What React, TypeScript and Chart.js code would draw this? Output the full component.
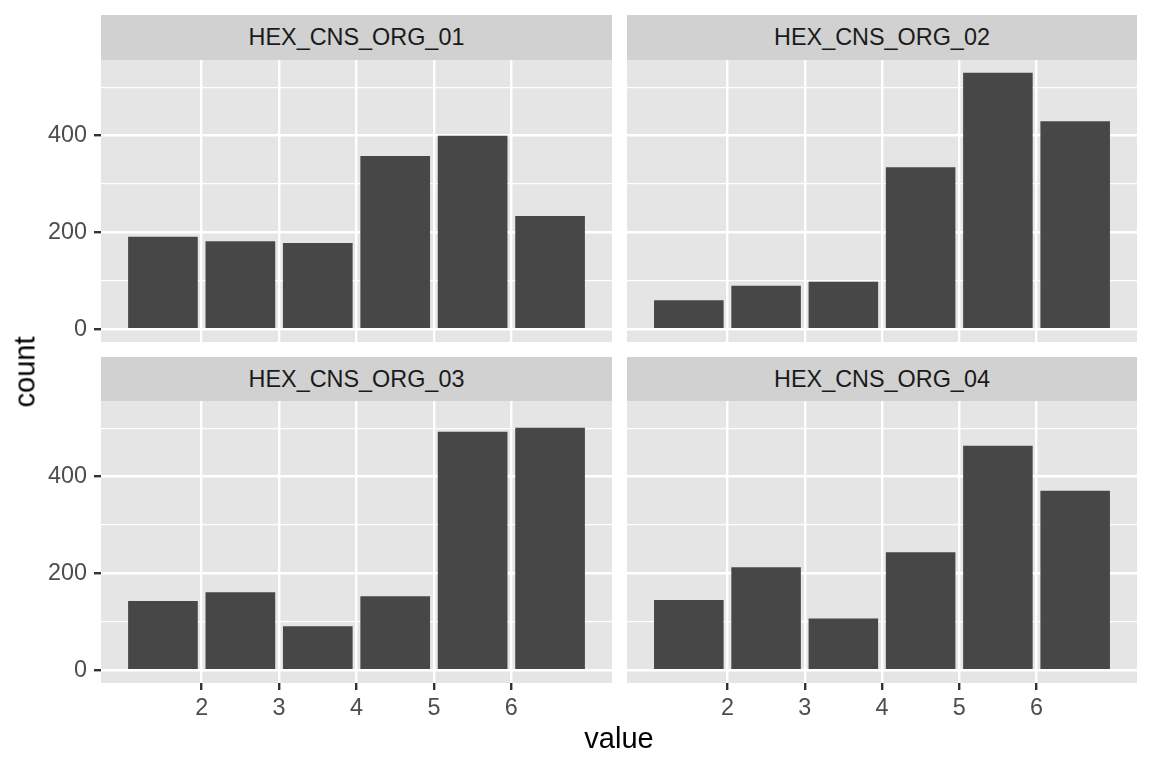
import React, { useEffect, useRef } from "react";
import { Chart, registerables } from "chart.js";

Chart.register(...registerables);

// ---- data ----
const binCenters = [1.5, 2.5, 3.5, 4.5, 5.5, 6.5];
const xTickValues = [2, 3, 4, 5, 6];
const yMajorTicks = [0, 200, 400];
const yAllTicks = [0, 100, 200, 300, 400, 500];
const panelNames = ["HEX_CNS_ORG_01", "HEX_CNS_ORG_02", "HEX_CNS_ORG_03", "HEX_CNS_ORG_04"];
const org01Counts = [191, 182, 178, 358, 400, 234];
const org02Counts = [60, 90, 98, 335, 530, 430];
const org03Counts = [143, 161, 91, 153, 493, 501];
const org04Counts = [145, 213, 107, 244, 464, 371];
const xAxisTitle = "value";
const yAxisTitle = "count";

const allCounts = [org01Counts, org02Counts, org03Counts, org04Counts];
const maxCount = Math.max(...allCounts.flat());
const yPad = 0.05 * maxCount;
const xMin = 1, xMax = 7;
const xPad = 0.05 * (xMax - xMin);

const FONT = '"Liberation Sans", Arial, Helvetica, sans-serif';
const PANEL_BG = "#E5E5E5";
const STRIP_BG = "#D1D1D1";
const BAR_COLOR = "#474747";

type PanelProps = {
  counts: number[];
  left: number;
  top: number;
  width: number;
  height: number;
  showY: boolean;
  showX: boolean;
};

function Panel({ counts, left, top, width, height, showY, showX }: PanelProps) {
  const ref = useRef<HTMLCanvasElement | null>(null);
  useEffect(() => {
    if (!ref.current) return;
    const chart = new Chart(ref.current, {
      type: "bar",
      data: {
        datasets: [
          {
            data: binCenters.map((x, i) => ({ x, y: counts[i] })),
            backgroundColor: BAR_COLOR,
            borderWidth: 0,
            barPercentage: 0.9,
            categoryPercentage: 1,
          } as any,
        ],
      },
      options: {
        animation: false,
        responsive: false,
        events: [],
        layout: { padding: 0 },
        plugins: {
          legend: { display: false },
          tooltip: { enabled: false },
          title: { display: false },
        },
        scales: {
          x: {
            type: "linear",
            min: xMin - xPad,
            max: xMax + xPad,
            offset: false,
            afterBuildTicks: (s: any) => {
              s.ticks = xTickValues.map((v) => ({ value: v }));
            },
            afterFit: (s: any) => {
              s.height = showX ? 40 : 0;
              s.paddingLeft = 0;
              s.paddingRight = 0;
            },
            grid: {
              offset: false,
              color: "#FFFFFF",
              lineWidth: 2.4,
              drawTicks: showX,
              tickLength: 7,
              tickColor: "#333333",
              tickWidth: 2.4,
            },
            border: { display: false },
            ticks: {
              display: showX,
              autoSkip: false,
              maxRotation: 0,
              padding: 5,
              color: "#4D4D4D",
              font: { family: FONT, size: 23.4 },
            },
          },
          y: {
            type: "linear",
            min: -yPad,
            max: maxCount + yPad,
            afterBuildTicks: (s: any) => {
              s.ticks = yAllTicks.map((v) => ({ value: v }));
            },
            afterFit: (s: any) => {
              s.width = showY ? 101 : 0;
              s.paddingTop = 0;
              s.paddingBottom = 0;
            },
            grid: {
              color: "#FFFFFF",
              lineWidth: (ctx: any) =>
                yMajorTicks.includes(ctx.tick?.value) ? 2.4 : 1.2,
              drawTicks: showY,
              tickLength: 7,
              tickColor: (ctx: any) =>
                yMajorTicks.includes(ctx.tick?.value) ? "#333333" : "rgba(0,0,0,0)",
              tickWidth: 2.4,
            },
            border: { display: false },
            ticks: {
              display: showY,
              autoSkip: false,
              padding: 7,
              color: "#4D4D4D",
              font: { family: FONT, size: 23.4 },
              callback: (v: any) => (yMajorTicks.includes(Number(v)) ? String(v) : ""),
            },
          },
        },
      } as any,
      plugins: [
        {
          id: "panelBg",
          beforeDraw(c: any) {
            const { ctx, chartArea: a } = c;
            ctx.save();
            ctx.fillStyle = PANEL_BG;
            ctx.fillRect(a.left, a.top, a.right - a.left, a.bottom - a.top);
            ctx.restore();
          },
        },
      ],
    });
    return () => chart.destroy();
  }, [counts, showX, showY]);

  return (
    <canvas
      ref={ref}
      width={width}
      height={height}
      style={{ position: "absolute", left, top, display: "block" }}
    />
  );
}

function Strip({ label, left, top, width, height }: { label: string; left: number; top: number; width: number; height: number }) {
  return (
    <div
      style={{
        position: "absolute",
        left,
        top,
        width,
        height,
        background: STRIP_BG,
        display: "flex",
        alignItems: "center",
        justifyContent: "center",
        fontFamily: FONT,
        fontSize: 23.4,
        color: "#1A1A1A",
        whiteSpace: "nowrap",
      }}
    >
      {label}
    </div>
  );
}

export default function App() {
  const L = { left: 0, width: 612 };
  const R = { left: 627, width: 510 };
  const topPanelY = 60;
  const bottomPanelY = 401;
  const panelH = 282;
  return (
    <div
      style={{
        position: "absolute",
        left: 0,
        top: 0,
        width: 1152,
        height: 768,
        background: "#FFFFFF",
        overflow: "hidden",
        fontFamily: FONT,
      }}
    >
      <Panel counts={org01Counts} left={L.left} top={topPanelY} width={L.width} height={panelH} showY={true} showX={false} />
      <Panel counts={org02Counts} left={R.left} top={topPanelY} width={R.width} height={panelH} showY={false} showX={false} />
      <Panel counts={org03Counts} left={L.left} top={bottomPanelY} width={L.width} height={panelH + 40} showY={true} showX={true} />
      <Panel counts={org04Counts} left={R.left} top={bottomPanelY} width={R.width} height={panelH + 40} showY={false} showX={true} />

      <Strip label={panelNames[0]} left={101} top={15} width={511} height={45} />
      <Strip label={panelNames[1]} left={627} top={15} width={510} height={45} />
      <Strip label={panelNames[2]} left={101} top={357} width={511} height={44} />
      <Strip label={panelNames[3]} left={627} top={357} width={510} height={44} />

      <div
        style={{
          position: "absolute",
          left: 619,
          top: 723.5,
          transform: "translateX(-50%)",
          fontSize: 29,
          lineHeight: "29px",
          color: "#000000",
          whiteSpace: "nowrap",
        }}
      >
        {xAxisTitle}
      </div>
      <div
        style={{
          position: "absolute",
          left: 25,
          top: 372,
          transform: "translate(-50%, -50%) rotate(-90deg)",
          fontSize: 29,
          lineHeight: "29px",
          color: "#000000",
          whiteSpace: "nowrap",
        }}
      >
        {yAxisTitle}
      </div>
    </div>
  );
}
